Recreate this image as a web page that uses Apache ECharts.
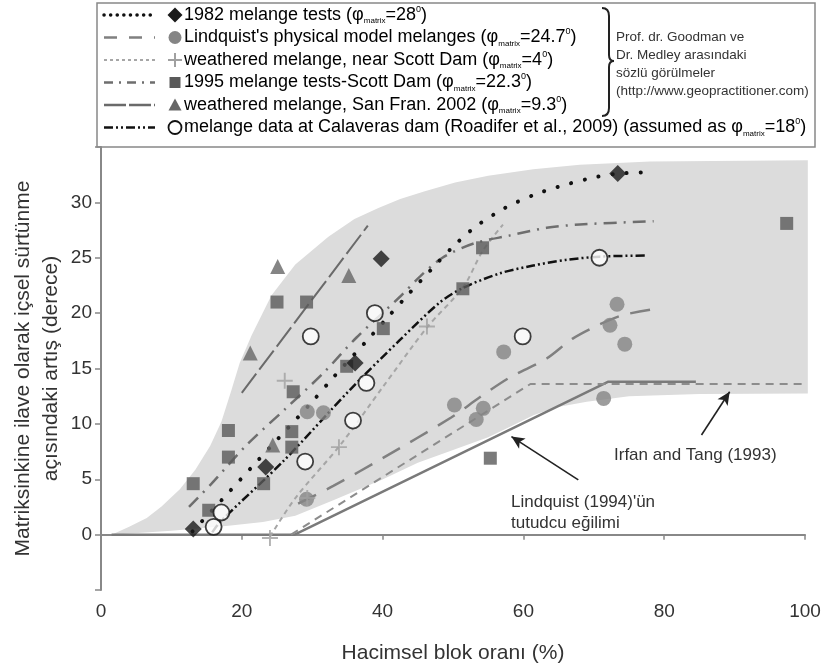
<!DOCTYPE html>
<html><head><meta charset="utf-8">
<script src="https://cdn.jsdelivr.net/npm/echarts@6/dist/echarts.min.js"></script>
<style>html,body{margin:0;padding:0;background:#fff}#c{width:827px;height:666px}</style>
</head><body><div id="c"></div>
<script>
// ---- data ----
const xTicks = [0, 20, 40, 60, 80, 100];
const yTicks = [0, 5, 10, 15, 20, 25, 30];

// shaded envelope
const shadeUpper = [[1.5,0],[4,0.7],[6.5,1.5],[8.6,2.55],[11.2,4.1],[13.4,5.85],[15.5,8.0],[17.1,10.2],[18.5,13.0],[19.7,15.5],[21.4,18.0],[24.2,21.6],[27.6,24.4],[32.3,26.9],[36,28.5],[39.4,29.5],[42.5,30.3],[46,31.0],[50.3,31.8],[55,32.4],[61.4,33.0],[68,33.4],[78,33.7],[100.4,33.8]];
const shadeLower = [[1.5,0],[10,0.35],[18.1,0.8],[23,1.15],[27.6,1.7],[33,3.1],[39.9,4.95],[45,6.5],[50.3,7.7],[55,8.8],[58.1,9.75],[61.5,10.8],[64.7,11.5],[69,12.0],[75,12.5],[85,12.7],[100.4,12.75]];

// 1982 melange tests
const pts1982 = [[13.1,0.5],[23.4,6.1],[36.1,15.5],[39.8,24.9],[73.4,32.6]];
const curve1982 = [[13,0.3],[17.4,3.3],[22,6.5],[30,12],[33,14.2],[37.6,17.4],[40.7,19.6],[43.8,21.8],[47,24],[50,26.0],[53.2,27.8],[57.4,29.5],[61.6,30.7],[66,31.6],[70.4,32.3],[73.4,32.6],[77.3,32.7]];

// Lindquist's physical model melanges
const ptsLindquist = [[29.2,3.2],[29.3,11.1],[31.6,11.0],[50.2,11.7],[53.3,10.4],[54.3,11.4],[57.2,16.5],[71.4,12.3],[72.3,18.9],[73.3,20.8],[74.4,17.2]];
const curveLindquist = [[28,2.8],[33,4.4],[40,6.9],[49.8,10.6],[53.8,12.4],[58.1,14.2],[63.3,15.9],[67,17.7],[70.9,19.0],[74,19.8],[78,20.3]];

// weathered melange near Scott Dam
const ptsScott = [[24,-0.3],[26.1,13.9],[29.3,3.3],[33.8,7.9],[46.3,18.8]];
const curveScott = [[24,-0.2],[27.6,3.3],[34,8.1],[40,13.3],[46.3,18.7],[51.5,22.4],[54.2,25.6],[57.1,28]];

// 1995 melange tests - Scott Dam
const pts1995 = [[13.1,4.6],[15.3,2.2],[18.1,7.0],[18.1,9.4],[23.1,4.6],[25,21],[27.1,7.9],[27.1,9.3],[27.3,12.9],[29.2,21],[34.9,15.2],[40.1,18.6],[51.4,22.2],[54.2,25.9],[55.3,6.9],[97.4,28.1]];
const curve1995 = [[12.5,2.5],[15.7,4.6],[20.7,8.1],[26.1,11.3],[31.6,14.6],[36.3,17.8],[42.5,21.5],[45.3,23.3],[48.5,25],[53,26.3],[58,27],[63.3,27.7],[68,28],[78.5,28.3]];

// weathered melange San Fran. 2002
const ptsSF = [[21.2,16.4],[24.4,8.1],[25.1,24.2],[35.2,23.4]];
const curveSF = [[20.0,12.8],[37.9,27.9]];

// Calaveras dam data
const ptsCalaveras = [[16,0.7],[17.1,2.0],[29,6.6],[29.8,17.9],[35.8,10.3],[37.7,13.7],[38.9,20],[59.9,17.9],[70.8,25]];
const curveCalaveras = [[15.8,0.2],[17,1.2],[26,6.7],[35.4,13.1],[42.5,17.6],[48.2,21.0],[51.5,22.3],[56.7,23.6],[61.4,24.3],[66,24.8],[70.8,25.1],[77.3,25.2]];

// reference trends
const lindquistTrend = [[1.5,0],[27.5,0],[72,13.8],[84.5,13.8]];
const irfanTang = [[27,0],[61,13.6],[100,13.6]];

// annotation arrows [from, to]
const arrowIrfan = [[85.3,9.0],[89.3,12.9]];
const arrowLindquist = [[67.8,4.95],[58.3,8.85]];

// ---- chart ----
const chart = echarts.init(document.getElementById('c'), null, {renderer:'canvas'});
const FONT = 'Liberation Sans, Arial, sans-serif';
const NARROW = 'Liberation Sans Narrow, Liberation Sans, sans-serif';

function lineSeries(name, data, color, width, type, extra){
  return Object.assign({
    name, type:'line', data, smooth:0.3, showSymbol:false, symbol:'none', silent:true, z:3,
    lineStyle:{color, width, type, cap:'butt'}
  }, extra||{});
}
function scatterSeries(name, data, symbol, size, style){
  return {name, type:'scatter', data, symbol, symbolSize:size, silent:true, z:5, itemStyle:style};
}
const plusPath = 'path://M4.4,0H5.6V4.4H10V5.6H5.6V10H4.4V5.6H0V4.4H4.4Z';

const option = {
  animation:false,
  backgroundColor:'#fff',
  grid:{left:101, right:22, top:147, bottom:76, containLabel:false, outerBoundsMode:'none'},
  xAxis:{
    type:'value', min:0, max:100, interval:20,
    axisLine:{lineStyle:{color:'#888', width:2}},
    axisTick:{length:5, lineStyle:{color:'#888', width:1.5}},
    axisLabel:{color:'#333', fontSize:19, fontFamily:FONT, margin:12,
      formatter:v=> xTicks.indexOf(v)>=0 ? String(v) : ''},
    splitLine:{show:false},
    name:'Hacimsel blok oranı (%)', nameLocation:'middle', nameGap:53,
    nameTextStyle:{color:'#333', fontSize:21, fontFamily:FONT}
  },
  yAxis:{
    type:'value', min:-5, max:35, interval:5,
    axisLine:{show:true, lineStyle:{color:'#888', width:2}},
    axisTick:{show:true, length:6, lineStyle:{color:'#888', width:1.5}},
    axisLabel:{color:'#333', fontSize:19, fontFamily:FONT, margin:9,
      formatter:v=> yTicks.indexOf(v)>=0 ? String(v) : ''},
    splitLine:{show:false},
    name:'Matriksinkine ilave olarak içsel sürtünme\naçısındaki artış (derece)',
    nameLocation:'middle', nameGap:36, nameRotate:90, nameMoveOverlap:false,
    nameTextStyle:{color:'#333', fontSize:21, fontFamily:FONT, lineHeight:28}
  },
  series:[
    {
      type:'custom', silent:true, z:1, clip:false,
      data: shadeUpper,
      renderItem:function(params, api){
        if(params.dataIndex!==0) return null;
        const poly = shadeUpper.concat(shadeLower.slice().reverse()).map(p=>api.coord(p));
        return {type:'polygon', shape:{points:poly}, style:{fill:'#dcdcdc'}};
      }
    },
    lineSeries('Lindquist trend', lindquistTrend, '#7a7a7a', 2.5, 'solid', {smooth:false, z:2}),
    lineSeries('Irfan and Tang', irfanTang, '#8c8c8c', 2, [8,6], {smooth:false, z:2,
      markLine:{silent:true, symbol:['none','arrow'], symbolSize:[9,13], label:{show:false},
        lineStyle:{color:'#222', width:1.6, type:'solid'},
        data:[[{coord:arrowIrfan[0]},{coord:arrowIrfan[1]}],[{coord:arrowLindquist[0]},{coord:arrowLindquist[1]}]]}}),
    lineSeries('Lindquist model', curveLindquist, '#808080', 2.5, [20,12]),
    lineSeries('Scott', curveScott, '#a6a6a6', 2, [5,4]),
    lineSeries('1995', curve1995, '#6e6e6e', 2.5, [13,7,2,7]),
    lineSeries('SF', curveSF, '#6a6a6a', 2, [24,5], {smooth:false}),
    lineSeries('Calaveras', curveCalaveras, '#111', 2.5, [9,3,2,3,2,3]),
    lineSeries('1982', curve1982, '#111', 3.5, [0.1,14], {lineStyle:{color:'#111', width:4, type:[0.1,14], cap:'round'}}),
    scatterSeries('1995 pts', pts1995, 'rect', 13, {color:'#5a5a5a'}),
    scatterSeries('SF pts', ptsSF, 'triangle', 15, {color:'#666'}),
    scatterSeries('Lindquist pts', ptsLindquist, 'circle', 15, {color:'#858585'}),
    scatterSeries('Scott pts', ptsScott, plusPath, 16, {color:'#a0a0a0'}),
    scatterSeries('1982 pts', pts1982, 'diamond', [17,17], {color:'#1a1a1a'}),
    scatterSeries('Calaveras pts', ptsCalaveras, 'circle', 16, {color:'#fff', borderColor:'#111', borderWidth:1.8})
  ],
  graphic:[]
};

// ---- legend drawn as graphics ----
const lg = [];
lg.push({type:'rect', shape:{x:97, y:3, width:718, height:144}, style:{fill:'none', stroke:'#888', lineWidth:1.5}, z:10});
const rowsY = [15, 37.5, 60, 82.5, 105, 127.5];
const lx0 = 104, lx1 = 155, sx = 175, tx = 184;
const rich = {
  a:{fontSize:18, fontFamily:FONT, color:'#222', lineHeight:20},
  s:{fontSize:8, fontFamily:FONT, color:'#222', lineHeight:20, verticalAlign:'bottom', padding:[7,0,0,0]},
  p:{fontSize:9, fontFamily:FONT, color:'#222', lineHeight:20, verticalAlign:'top', padding:[0,0,7,0]}
};
const legendRows = [
  {txt:'{a|1982 melange tests (φ}{s|matrix}{a|=28}{p|0}{a|)}', stroke:'#111', w:3.5, dash:[0.1,6.5], cap:'round', sym:'diamond'},
  {txt:"{a|Lindquist's physical model melanges (φ}{s|matrix}{a|=24.7}{p|0}{a|)}", stroke:'#808080', w:2.5, dash:[13,12], sym:'circle'},
  {txt:'{a|weathered melange, near Scott Dam (φ}{s|matrix}{a|=4}{p|0}{a|)}', stroke:'#a6a6a6', w:2, dash:[3,3], sym:'plus'},
  {txt:'{a|1995 melange tests-Scott Dam (φ}{s|matrix}{a|=22.3}{p|0}{a|)}', stroke:'#6e6e6e', w:2.5, dash:[9,6,2,6], sym:'square'},
  {txt:'{a|weathered melange, San Fran. 2002 (φ}{s|matrix}{a|=9.3}{p|0}{a|)}', stroke:'#6a6a6a', w:2.5, dash:[22,3], sym:'triangle'},
  {txt:'{a|melange data at Calaveras dam (Roadifer et al., 2009) (assumed as φ}{s|matrix}{a|=18}{p|0}{a|)}', stroke:'#111', w:2.5, dash:[9,3,2,3,2,3], sym:'open'}
];
legendRows.forEach((r,i)=>{
  const y = rowsY[i];
  lg.push({type:'line', shape:{x1:lx0, y1:y, x2:lx1, y2:y}, style:{stroke:r.stroke, lineWidth:r.w, lineDash:r.dash, lineCap:r.cap||'butt'}, z:10});
  let s;
  if(r.sym==='diamond') s={type:'polygon', shape:{points:[[sx,y-7.5],[sx+7.5,y],[sx,y+7.5],[sx-7.5,y]]}, style:{fill:'#1a1a1a'}};
  if(r.sym==='circle') s={type:'circle', shape:{cx:sx, cy:y, r:6.5}, style:{fill:'#858585'}};
  if(r.sym==='plus') s={type:'group', children:[
    {type:'line', shape:{x1:sx-7,y1:y,x2:sx+7,y2:y}, style:{stroke:'#a0a0a0', lineWidth:2}},
    {type:'line', shape:{x1:sx,y1:y-7,x2:sx,y2:y+7}, style:{stroke:'#a0a0a0', lineWidth:2}}]};
  if(r.sym==='square') s={type:'rect', shape:{x:sx-5.5, y:y-5.5, width:11, height:11}, style:{fill:'#5a5a5a'}};
  if(r.sym==='triangle') s={type:'polygon', shape:{points:[[sx,y-6.5],[sx+6.5,y+5.5],[sx-6.5,y+5.5]]}, style:{fill:'#666'}};
  if(r.sym==='open') s={type:'circle', shape:{cx:sx, cy:y, r:6.5}, style:{fill:'#fff', stroke:'#111', lineWidth:1.8}};
  s.z = 10; lg.push(s);
  lg.push({type:'text', x:tx, y:y, z:10, style:{text:r.txt, rich:rich, verticalAlign:'middle', align:'left'}});
});
// brace made of curves
const bx = 602, bm = 609, bt = 8, bc = 61, bb = 116;
const braceStyle = {fill:'none', stroke:'#222', lineWidth:2};
[
  {x1:bx, y1:bt, cpx1:bm, cpy1:bt, x2:bm, y2:bt+8},
  {x1:bm, y1:bc-6, cpx1:bm, cpy1:bc, x2:bm+5, y2:bc},
  {x1:bm+5, y1:bc, cpx1:bm, cpy1:bc, x2:bm, y2:bc+6},
  {x1:bm, y1:bb-8, cpx1:bm, cpy1:bb, x2:bx, y2:bb}
].forEach(sh=>lg.push({type:'bezierCurve', z:10, shape:sh, style:braceStyle}));
lg.push({type:'line', z:10, shape:{x1:bm, y1:bt+8, x2:bm, y2:bc-6}, style:braceStyle});
lg.push({type:'line', z:10, shape:{x1:bm, y1:bc+6, x2:bm, y2:bb-8}, style:braceStyle});

const noteLines = ['Prof. dr. Goodman ve','Dr. Medley arasındaki','sözlü görülmeler','(http://www.geopractitioner.com)'];
noteLines.forEach((t,i)=>{
  lg.push({type:'text', x:616, y:37+i*18, z:10, style:{text:t, fontSize:13.5, fontFamily:NARROW, fill:'#333', verticalAlign:'middle'}});
});
// annotations
lg.push({type:'text', x:614, y:455, z:10, style:{text:'Irfan and Tang (1993)', fontSize:17, fontFamily:FONT, fill:'#333', verticalAlign:'middle'}});
lg.push({type:'text', x:511, y:502, z:10, style:{text:"Lindquist (1994)'ün", fontSize:17, fontFamily:FONT, fill:'#333', verticalAlign:'middle'}});
lg.push({type:'text', x:511, y:523, z:10, style:{text:'tutudcu eğilimi', fontSize:17, fontFamily:FONT, fill:'#333', verticalAlign:'middle'}});
option.graphic = lg;

chart.setOption(option);
</script>
</body></html>
